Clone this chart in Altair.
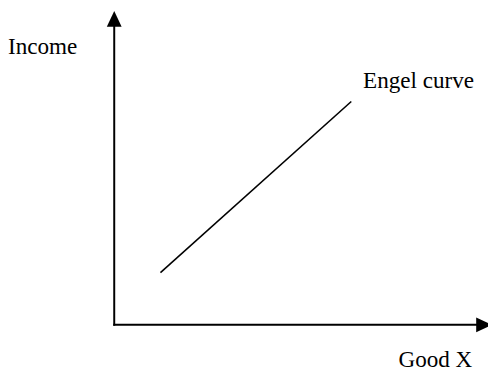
import altair as alt
import pandas as pd

# Engel curve (straight line) endpoints, in diagram units
curve_x = [0.47, 2.41]
curve_y = [0.53, 2.27]

# Axes (from origin to arrowhead centres)
axis_start_x = [0.0, 0.0]
axis_start_y = [0.0, 0.0]
axis_end_x = [0.0, 3.76]
axis_end_y = [3.11, 0.0]

# Text labels
label_text = ["Income", "Engel curve", "Good X"]
label_x = [-1.08, 2.53, 2.89]
label_y = [2.75, 2.41, -0.43]

X_DOMAIN = [-1.08, 3.80]
Y_DOMAIN = [-0.49, 3.19]

xs = alt.Scale(domain=X_DOMAIN, nice=False, zero=False)
ys = alt.Scale(domain=Y_DOMAIN, nice=False, zero=False)

axes_df = pd.DataFrame({"x": axis_start_x, "y": axis_start_y,
                        "x2": axis_end_x, "y2": axis_end_y})
axes = alt.Chart(axes_df).mark_rule(color="black", strokeWidth=2, strokeCap="square").encode(
    x=alt.X("x:Q", scale=xs, axis=None),
    y=alt.Y("y:Q", scale=ys, axis=None),
    x2="x2:Q",
    y2="y2:Q",
)

up_df = pd.DataFrame({"x": [axis_end_x[0]], "y": [axis_end_y[0]]})
right_df = pd.DataFrame({"x": [axis_end_x[1]], "y": [axis_end_y[1]]})

head_up = alt.Chart(up_df).mark_point(
    shape="M0,-1L0.94,1L-0.94,1Z", size=256, filled=True, color="black", opacity=1, strokeWidth=0
).encode(x=alt.X("x:Q", scale=xs, axis=None), y=alt.Y("y:Q", scale=ys, axis=None))

head_right = alt.Chart(right_df).mark_point(
    shape="M1,0L-1,0.94L-1,-0.94Z", size=256, filled=True, color="black", opacity=1, strokeWidth=0
).encode(x=alt.X("x:Q", scale=xs, axis=None), y=alt.Y("y:Q", scale=ys, axis=None))

curve_df = pd.DataFrame({"x": curve_x, "y": curve_y})
curve = alt.Chart(curve_df).mark_line(color="black", strokeWidth=1.6).encode(
    x=alt.X("x:Q", scale=xs, axis=None),
    y=alt.Y("y:Q", scale=ys, axis=None),
)

labels_df = pd.DataFrame({"t": label_text, "x": label_x, "y": label_y})
labels = alt.Chart(labels_df).mark_text(
    align="left", baseline="alphabetic", font="Liberation Serif", fontSize=23.5, color="black"
).encode(
    x=alt.X("x:Q", scale=xs, axis=None),
    y=alt.Y("y:Q", scale=ys, axis=None),
    text="t:N",
)

chart = (
    alt.layer(axes, curve, head_up, head_right, labels)
    .properties(width=488, height=368, padding=0,
                autosize=alt.AutoSizeParams(type="none"))
    .configure_view(strokeWidth=0)
)

chart.save("out.html", embed_options={"renderer": "svg", "actions": False})
